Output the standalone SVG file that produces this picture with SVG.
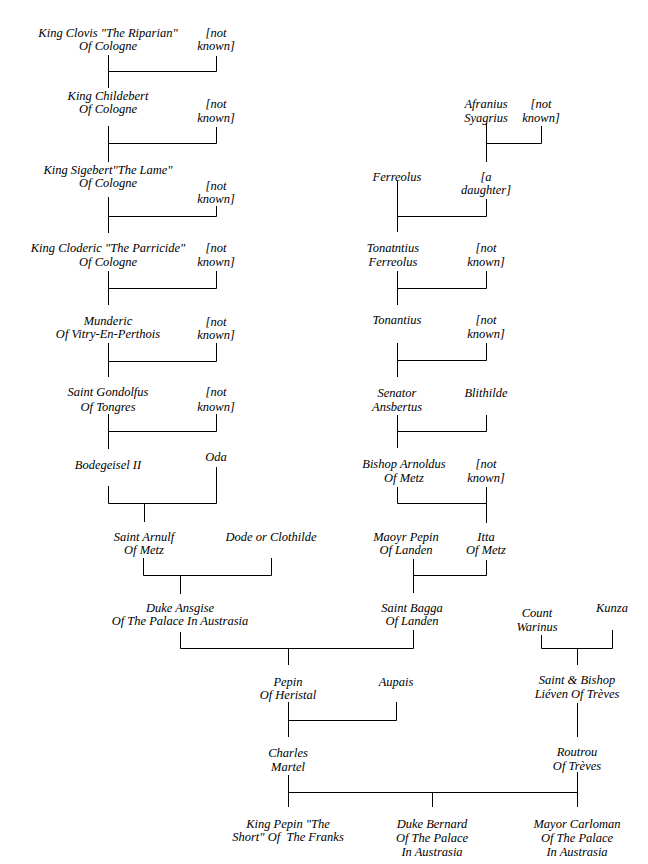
<svg xmlns="http://www.w3.org/2000/svg" width="648" height="864" viewBox="0 0 648 864">
<style>
text{font-family:"Liberation Serif","DejaVu Serif",serif;font-style:italic;font-size:12.5px;fill:#000;text-anchor:middle;white-space:pre}
.c{fill:none;stroke:#000;stroke-width:1}
</style>
<rect width="648" height="864" fill="#fff"/>
<g id="connectors" class="c">
<path d="M108.5 55V88M108.5 71.5H216.5M216.5 56V71.5"/>
<path d="M108.5 126V162M108.5 143.5H216.5M216.5 127V143.5"/>
<path d="M108.5 197V233M108.5 216.5H216.5M216.5 206V216.5"/>
<path d="M108.5 271V305M108.5 288.5H216.5M216.5 271V288.5"/>
<path d="M108.5 343V377M108.5 361.5H216.5M216.5 343V361.5"/>
<path d="M108.5 414V449M108.5 431.5H216.5M216.5 414V431.5"/>
<path d="M108.5 486V503.5M216.5 467V503.5M108.5 503.5H216.5M144.5 503.5V522"/>
<path d="M143.5 558V575.5M271.5 558V575.5M143.5 575.5H271.5M180.5 575.5V594"/>
<path d="M180.5 632V648.5M180.5 648.5H413.5M413.5 630V648.5M288.5 648.5V665"/>
<path d="M486.5 123V162M486.5 143.5H541.5M541.5 126V143.5"/>
<path d="M397.5 181V232M397.5 216.5H486.5M486.5 199V216.5"/>
<path d="M397.5 271V305M397.5 288.5H486.5M486.5 271V288.5"/>
<path d="M397.5 343V377M397.5 360.5H486.5M486.5 343V360.5"/>
<path d="M397.5 415V448M397.5 431.5H486.5M486.5 415V431.5"/>
<path d="M397.5 487V503.5M397.5 503.5H486.5M486.5 487V523"/>
<path d="M413.5 559V593M413.5 575.5H486.5M486.5 560V575.5"/>
<path d="M541.5 635V648.5M612.5 630V648.5M541.5 648.5H612.5M577.5 648.5V665"/>
<path d="M577.5 703V737"/>
<path d="M577.5 772V807"/>
<path d="M288.5 702V737M288.5 720.5H396.5M396.5 702V720.5"/>
<path d="M288.5 775V807M288.5 792.5H577.5M432.5 792.5V807"/>
</g>
<g id="clovis"><text x="108" y="37">King Clovis "The Riparian"</text><text x="108" y="50">Of Cologne</text></g>
<g id="nk1"><text x="216" y="37">[not</text><text x="216" y="50">known]</text></g>
<g id="childebert"><text x="108" y="100">King Childebert</text><text x="108" y="113">Of Cologne</text></g>
<g id="nk2"><text x="216" y="108">[not</text><text x="216" y="122">known]</text></g>
<g id="sigebert"><text x="108" y="174">King Sigebert"The Lame"</text><text x="108" y="187">Of Cologne</text></g>
<g id="nk3"><text x="216" y="190">[not</text><text x="216" y="203">known]</text></g>
<g id="cloderic"><text x="108" y="252">King Cloderic "The Parricide"</text><text x="108" y="266">Of Cologne</text></g>
<g id="nk4"><text x="216" y="252">[not</text><text x="216" y="266">known]</text></g>
<g id="munderic"><text x="108" y="325">Munderic</text><text x="108" y="338">Of Vitry-En-Perthois</text></g>
<g id="nk5"><text x="216" y="326">[not</text><text x="216" y="339">known]</text></g>
<g id="gondolfus"><text x="108" y="396">Saint Gondolfus</text><text x="108" y="411">Of Tongres</text></g>
<g id="nk6"><text x="216" y="396">[not</text><text x="216" y="411">known]</text></g>
<g id="bodegeisel"><text x="108" y="469">Bodegeisel II</text></g>
<g id="oda"><text x="216" y="461">Oda</text></g>
<g id="arnulf"><text x="144" y="541">Saint Arnulf</text><text x="144" y="554">Of Metz</text></g>
<g id="dode"><text x="271" y="541">Dode or Clothilde</text></g>
<g id="ansgise"><text x="180" y="612">Duke Ansgise</text><text x="180" y="625">Of The Palace In Austrasia</text></g>
<g id="afranius"><text x="486" y="108">Afranius</text><text x="486" y="122">Syagrius</text></g>
<g id="nk7"><text x="541" y="108">[not</text><text x="541" y="122">known]</text></g>
<g id="ferreolus"><text x="397" y="181">Ferreolus</text></g>
<g id="daughter"><text x="486" y="181">[a</text><text x="486" y="194">daughter]</text></g>
<g id="tonatntius"><text x="393" y="252">Tonatntius</text><text x="393" y="266">Ferreolus</text></g>
<g id="nk8"><text x="486" y="252">[not</text><text x="486" y="266">known]</text></g>
<g id="tonantius"><text x="397" y="324">Tonantius</text></g>
<g id="nk9"><text x="486" y="324">[not</text><text x="486" y="338">known]</text></g>
<g id="ansbertus"><text x="397" y="397">Senator</text><text x="397" y="411">Ansbertus</text></g>
<g id="blithilde"><text x="486" y="397">Blithilde</text></g>
<g id="arnoldus"><text x="404" y="468">Bishop Arnoldus</text><text x="404" y="482">Of Metz</text></g>
<g id="nk10"><text x="486" y="468">[not</text><text x="486" y="482">known]</text></g>
<g id="pepinlanden"><text x="406" y="541">Maoyr Pepin</text><text x="406" y="554">Of Landen</text></g>
<g id="itta"><text x="486" y="541">Itta</text><text x="486" y="554">Of Metz</text></g>
<g id="bagga"><text x="412" y="612">Saint Bagga</text><text x="412" y="625">Of Landen</text></g>
<g id="warinus"><text x="537" y="617">Count</text><text x="537" y="631">Warinus</text></g>
<g id="kunza"><text x="612" y="612">Kunza</text></g>
<g id="lieven"><text x="577" y="684">Saint &amp; Bishop</text><text x="577" y="698">Liéven Of Trèves</text></g>
<g id="routrou"><text x="577" y="756">Routrou</text><text x="577" y="770">Of Trèves</text></g>
<g id="heristal"><text x="288" y="686">Pepin</text><text x="288" y="699">Of Heristal</text></g>
<g id="aupais"><text x="396" y="686">Aupais</text></g>
<g id="martel"><text x="288" y="757">Charles</text><text x="288" y="771">Martel</text></g>
<g id="pepinshort"><text x="288" y="828">King Pepin "The</text><text x="288" y="841">Short" Of  The Franks</text></g>
<g id="bernard"><text x="432" y="828">Duke Bernard</text><text x="432" y="842">Of The Palace</text><text x="432" y="856">In Austrasia</text></g>
<g id="carloman"><text x="577" y="828">Mayor Carloman</text><text x="577" y="842">Of The Palace</text><text x="577" y="856">In Austrasia</text></g>
</svg>
